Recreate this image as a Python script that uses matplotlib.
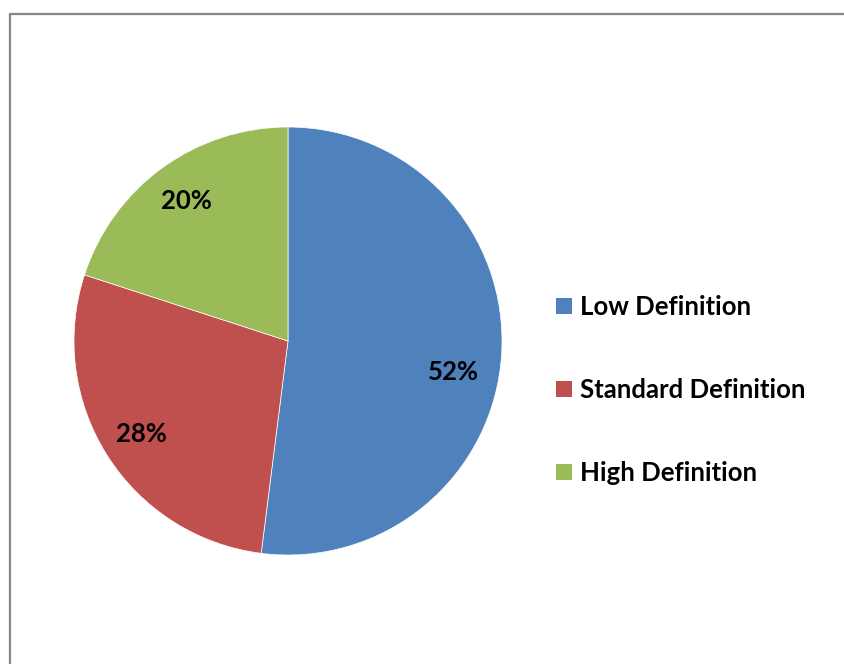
import matplotlib
matplotlib.use("Agg")
import matplotlib.pyplot as plt
from matplotlib.patches import Rectangle, Patch

categories = ["Low Definition", "Standard Definition", "High Definition"]
values = [52, 28, 20]
colors = ["#4F81BD", "#C0504D", "#9BBB59"]

plt.rcParams['font.family'] = ['Lato', 'DejaVu Sans']

W, H = 845, 664
fig = plt.figure(figsize=(W / 100, H / 100), dpi=100)
fig.patch.set_facecolor("white")

# chart frame
fig.patches.append(Rectangle((10.5 / W, -0.1), 2.0, 1 - 13.5 / H + 0.1,
                             transform=fig.transFigure, fill=False,
                             edgecolor="#878787", linewidth=1.6))

cx, cy, r = 288, 341, 214
ax = fig.add_axes([(cx - r) / W, (H - cy - r) / H, 2 * r / W, 2 * r / H])
wedges, texts, autotexts = ax.pie(
    values, colors=colors, startangle=90, counterclock=False,
    autopct=lambda p: f"{p:.0f}%", pctdistance=0.81,
    wedgeprops=dict(edgecolor="white", linewidth=0.5),
    textprops=dict(fontsize=18.5, fontweight="bold", color="black"))
ax.set_xlim(-1, 1)
ax.set_ylim(-1, 1)
ax.set_aspect("equal")
ax.axis("off")
# Excel best-fit placement for the large slice
autotexts[0].set_position((0.771, -0.145))

handles = [Patch(facecolor=c, edgecolor="none") for c in colors]
fig.legend(handles, categories, loc="center left",
           bbox_to_anchor=(556 / W, (H - 390) / H), frameon=False,
           prop=dict(size=18.5, weight="bold"),
           handlelength=0.62, handleheight=0.62, handletextpad=0.33,
           labelspacing=2.3, borderaxespad=0, borderpad=0)

fig.savefig("out.png", dpi=100, facecolor="white")
